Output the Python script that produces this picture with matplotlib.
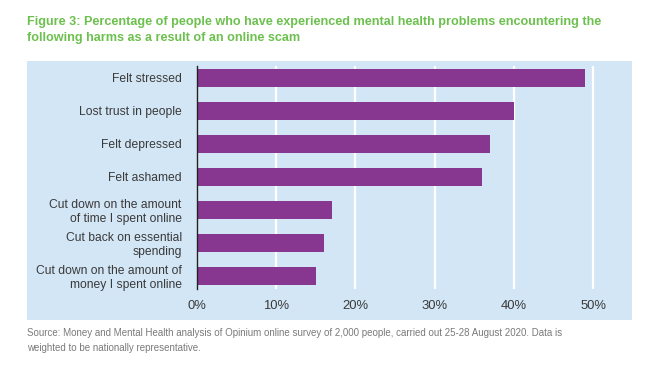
import matplotlib
matplotlib.use("Agg")
import matplotlib.pyplot as plt

categories = [
    "Felt stressed",
    "Lost trust in people",
    "Felt depressed",
    "Felt ashamed",
    "Cut down on the amount\nof time I spent online",
    "Cut back on essential\nspending",
    "Cut down on the amount of\nmoney I spent online",
]
values = [49, 40, 37, 36, 17, 16, 15]
xticks = [0, 10, 20, 30, 40, 50]
xticklabels = ["0%", "10%", "20%", "30%", "40%", "50%"]

title = ("Figure 3: Percentage of people who have experienced mental health problems encountering the\n"
         "following harms as a result of an online scam")
source = ("Source: Money and Mental Health analysis of Opinium online survey of 2,000 people, carried out 25-28 August 2020. Data is\n"
          "weighted to be nationally representative.")

plt.rcParams['font.family'] = ['Liberation Sans', 'DejaVu Sans']

W, H = 652, 373
fig = plt.figure(figsize=(W / 100, H / 100), dpi=100)
fig.patch.set_facecolor("white")

panel_color = "#d3e6f5"
bg = fig.add_axes([27 / W, 1 - 320 / H, 605 / W, 259 / H], zorder=0)
bg.set_facecolor(panel_color)
bg.set_xticks([])
bg.set_yticks([])
for s in bg.spines.values():
    s.set_visible(False)

ax = fig.add_axes([197 / W, 1 - 289 / H, 420 / W, 223 / H], zorder=1)
ax.set_facecolor("none")
ypos = list(range(len(categories)))
ax.barh(ypos, values, height=0.54, color="#87378f", zorder=3)
ax.set_xlim(0, 53)
ax.set_ylim(6.4, -0.36)
ax.set_yticks(ypos)
ax.set_yticklabels(categories, fontsize=8.7, color="#3a3a3a", linespacing=1.15)
ax.set_xticks(xticks)
ax.set_xticklabels(xticklabels, fontsize=9.4, color="#3a3a3a")
ax.tick_params(axis="y", length=0, pad=11)
ax.tick_params(axis="x", length=0, pad=8)
ax.grid(axis="x", color="white", linewidth=1.6, zorder=1)
ax.set_axisbelow(True)
for s in ["top", "right", "bottom"]:
    ax.spines[s].set_visible(False)
ax.spines["left"].set_color("#222222")
ax.spines["left"].set_linewidth(1.0)
ax.spines["left"].set_zorder(4)

fig.text(27 / W, 1 - 16 / H, title, fontsize=9.1, fontweight="bold",
         color="#6cc04e", ha="left", va="top", linespacing=1.5)
fig.text(27 / W, 1 - 328 / H, source, fontsize=7, color="#7a7a7a",
         ha="left", va="top", linespacing=1.6)

fig.savefig("out.png", dpi=100, facecolor="white")
